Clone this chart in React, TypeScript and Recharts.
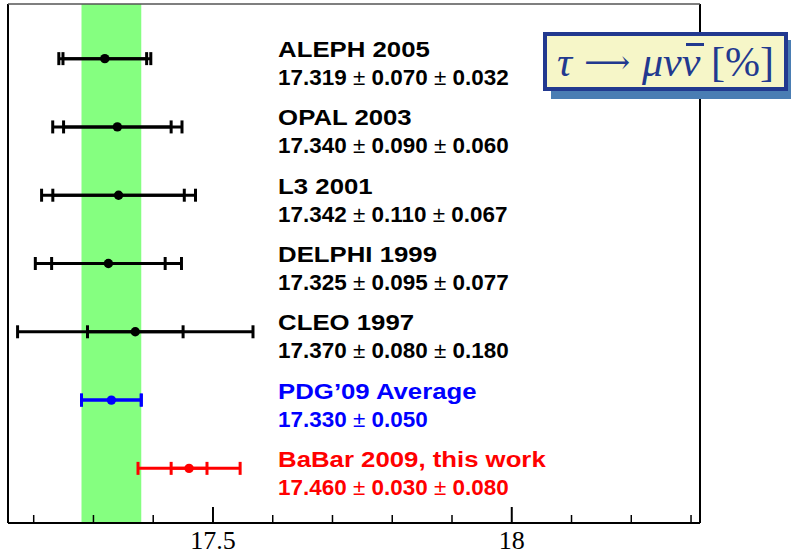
import React from 'react';
import { ScatterChart, Scatter, XAxis, YAxis, ErrorBar, ReferenceArea, ReferenceLine } from 'recharts';

const experiments = [
  'ALEPH 2005',
  'OPAL 2003',
  'L3 2001',
  'DELPHI 1999',
  'CLEO 1997',
  'PDG’09 Average',
  'BaBar 2009, this work',
];
const values = [17.319, 17.34, 17.342, 17.325, 17.37, 17.33, 17.46];
const statErrors = [0.07, 0.09, 0.11, 0.095, 0.08, 0.05, 0.03];
const systErrors = [0.032, 0.06, 0.067, 0.077, 0.18, null, 0.08];
const kinds = ['old', 'old', 'old', 'old', 'old', 'average', 'new'];

const xTicks = [17.2, 17.3, 17.4, 17.5, 17.6, 17.7, 17.8, 17.9, 18.0, 18.1, 18.2, 18.3];
const xTickLabels = [17.5, 18];

const X_DOMAIN = [17.157, 18.315];
const Y_DOMAIN = [-0.8, 6.8];
const LABEL_X = 17.609;

const COLORS: Record<string, string> = { old: '#000000', average: '#0000ff', new: '#ff0000' };
const TITLE_BLUE = '#22398f';

const rows = experiments.map((name, i) => {
  const syst = systErrors[i];
  const total = syst == null ? statErrors[i] : Math.sqrt(statErrors[i] ** 2 + syst ** 2);
  const parts = [values[i], statErrors[i]].concat(syst == null ? [] : [syst]).map((v) => v.toFixed(3));
  return { name, x: values[i], row: i, stat: statErrors[i], total, parts, kind: kinds[i] };
});

const labelRows = rows.map((r) => ({ ...r, x: LABEL_X }));

const Dot = (props: any) => (
  <circle cx={props.cx} cy={props.cy} r={4.7} fill={COLORS[props.payload.kind]} />
);

const LabelShape = (props: any) => {
  const { cx, cy, payload } = props;
  return (
    <g fill={COLORS[payload.kind]} fontFamily="'Liberation Sans', Arial, sans-serif" fontWeight="bold">
      <text fontSize={23} transform={`translate(${cx},${cy - 1.5}) scale(1.12,1)`}>{payload.name}</text>
      <text fontSize={22} transform={`translate(${cx},${cy + 26.5}) scale(1.02,1)`}>
        {payload.parts.map((p: string, j: number) => (
          <React.Fragment key={j}>
            {j > 0 && <tspan fontWeight="normal"> ± </tspan>}
            {p}
          </React.Fragment>
        ))}
      </text>
    </g>
  );
};

const AxisTick = (props: any) => {
  const { x, y, payload } = props;
  const v = payload.value;
  const major = xTickLabels.some((t) => Math.abs(t - v) < 1e-6);
  return (
    <g>
      <line x1={x} x2={x} y1={y} y2={y - (major ? 16 : 8)} stroke="#000" strokeWidth={major ? 2 : 1.5} />
      {major && (
        <text x={x} y={y + 26} textAnchor="middle" fontFamily="'Liberation Serif', 'Times New Roman', serif" fontSize={26} fill="#000">
          {v}
        </text>
      )}
    </g>
  );
};

export default function App() {
  const groups = ['old', 'average', 'new'];
  return (
    <div style={{ position: 'absolute', left: 0, top: 0, width: 791, height: 554, background: '#fff' }}>
      <ScatterChart width={791} height={554} margin={{ top: 4, right: 91, bottom: 0, left: 8 }}>
        <XAxis
          type="number"
          dataKey="x"
          domain={X_DOMAIN}
          allowDataOverflow
          ticks={xTicks}
          interval={0}
          height={31}
          tickSize={0}
          tickMargin={0}
          tickLine={false}
          tick={<AxisTick />}
          axisLine={{ stroke: '#000', strokeWidth: 2 }}
        />
        <YAxis type="number" dataKey="row" domain={Y_DOMAIN} reversed hide />
        <ReferenceArea
          x1={values[5] - statErrors[5]}
          x2={values[5] + statErrors[5]}
          fill="#85ff80"
          fillOpacity={1}
          stroke="none"
          ifOverflow="visible"
        />
        <ReferenceLine x={X_DOMAIN[0]} stroke="#000" strokeWidth={2} ifOverflow="visible" />
        <ReferenceLine x={X_DOMAIN[1]} stroke="#000" strokeWidth={2} ifOverflow="visible" />
        <ReferenceLine y={Y_DOMAIN[0]} stroke="#555" strokeWidth={1.5} ifOverflow="visible" />
        {groups.map((g) => (
          <Scatter key={g} data={rows.filter((r) => r.kind === g)} shape={<Dot />} isAnimationActive={false}>
            <ErrorBar dataKey="total" direction="x" width={6.5} strokeWidth={3} stroke={COLORS[g]} isAnimationActive={false} />
            <ErrorBar dataKey="stat" direction="x" width={6.5} strokeWidth={3} stroke={COLORS[g]} isAnimationActive={false} />
          </Scatter>
        ))}
        <Scatter data={labelRows} shape={<LabelShape />} isAnimationActive={false} />
      </ScatterChart>
      <div
        style={{
          position: 'absolute',
          left: 543,
          top: 32,
          width: 245,
          height: 59,
          boxSizing: 'border-box',
          border: `4px solid ${TITLE_BLUE}`,
          background: '#f6f6c8',
          boxShadow: '8px 8px 0 #4a7db3',
          display: 'flex',
          alignItems: 'center',
          justifyContent: 'center',
          color: TITLE_BLUE,
          fontFamily: "'Liberation Serif', 'DejaVu Serif', serif",
          fontSize: 42,
          lineHeight: '46px',
          whiteSpace: 'nowrap',
        }}
      >
        <span style={{ fontStyle: 'italic' }}>τ</span>
        <span style={{ fontFamily: "'DejaVu Serif', serif", fontSize: 32, margin: '0 12px' }}>⟶</span>
        <span style={{ fontStyle: 'italic' }}>μν</span>
        <span style={{ fontStyle: 'italic', position: 'relative', display: 'inline-block' }}>
          ν
          <span
            style={{
              position: 'absolute',
              left: '0.1em',
              width: '0.42em',
              top: '0.1em',
              height: 3,
              background: TITLE_BLUE,
            }}
          />
        </span>
        <span>&nbsp;[%]</span>
      </div>
    </div>
  );
}
